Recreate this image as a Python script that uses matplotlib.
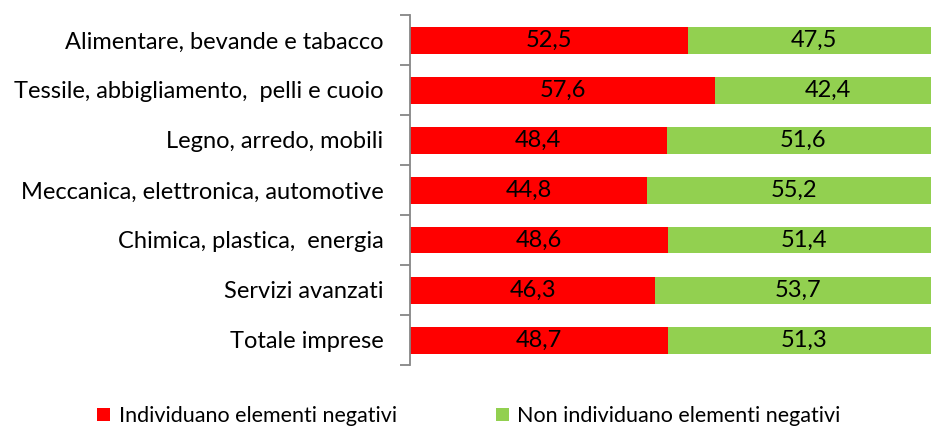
import numpy as np
import matplotlib.pyplot as plt

categories = ["Alimentare, bevande e tabacco",
              "Tessile, abbigliamento,  pelli e cuoio",
              "Legno, arredo, mobili",
              "Meccanica, elettronica, automotive",
              "Chimica, plastica,  energia",
              "Servizi avanzati",
              "Totale imprese"]
negativi = [52.5, 57.6, 48.4, 44.8, 48.6, 46.3, 48.7]
non_negativi = [47.5, 42.4, 51.6, 55.2, 51.4, 53.7, 51.3]
series_names = ["Individuano elementi negativi", "Non individuano elementi negativi"]

plt.rcParams['font.family'] = ['Lato', 'DejaVu Sans']

fig = plt.figure(figsize=(9.31, 4.28), dpi=100)
ax = fig.add_axes([410 / 931, 1 - 365 / 428, 530 / 931, 350 / 428])

y = np.arange(len(categories))
red = "#ff0000"
green = "#92d050"
ax.barh(y, negativi, height=0.54, color=red, label=series_names[0])
ax.barh(y, non_negativi, left=negativi, height=0.54, color=green, label=series_names[1])

for i in range(len(categories)):
    ax.text(negativi[i] / 2, y[i], f"{negativi[i]:.1f}".replace(".", ","),
            ha="center", va="center", fontsize=17)
    ax.text(negativi[i] + non_negativi[i] / 2, y[i], f"{non_negativi[i]:.1f}".replace(".", ","),
            ha="center", va="center", fontsize=17)

ax.set_xlim(0, 100)
ax.set_ylim(len(categories) - 0.5, -0.5)
ax.set_yticks(np.arange(-0.5, len(categories), 1))
ax.set_yticklabels([])
ax.set_yticks(y, minor=True)
ax.set_yticklabels(categories, minor=True, fontsize=17)
ax.tick_params(axis="y", which="minor", length=0, pad=19)
ax.tick_params(axis="y", which="major", length=7, color="#868686", width=1.3)
ax.set_xticks([])
for s in ["top", "right", "bottom"]:
    ax.spines[s].set_visible(False)
ax.spines["left"].set_color("#868686")
ax.spines["left"].set_linewidth(1.3)

fig.legend(loc="center left", bbox_to_anchor=(80 / 931, 1 - 416 / 428), ncol=2, frameon=False,
           fontsize=15.5, handlelength=0.6, handleheight=0.6, handletextpad=0.4,
           columnspacing=4.6, borderpad=0.3)

fig.savefig("out.png", dpi=100)
